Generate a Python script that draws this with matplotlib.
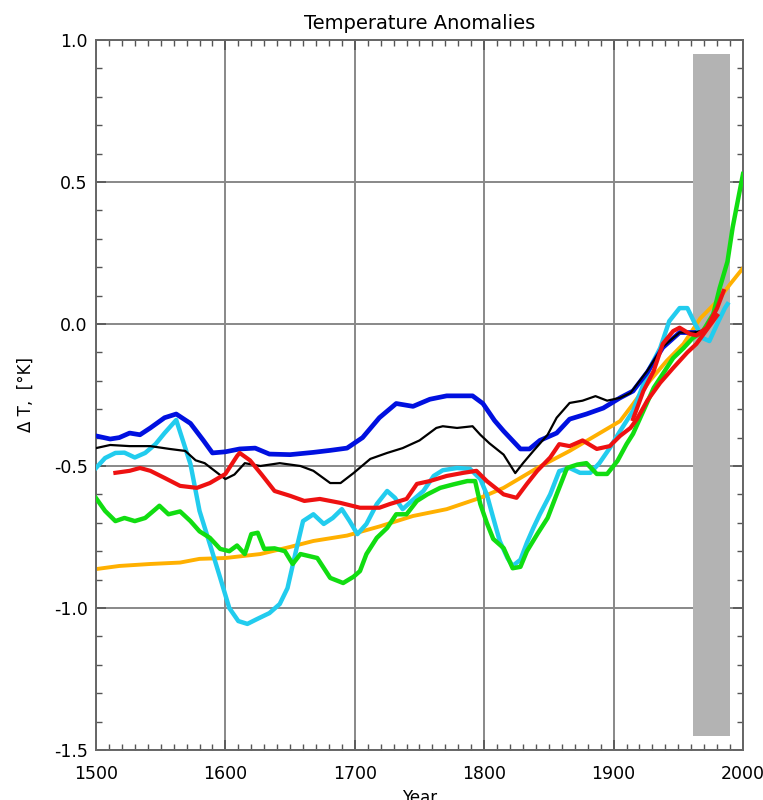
import matplotlib
matplotlib.use("Agg")
import matplotlib.pyplot as plt
from matplotlib.ticker import MultipleLocator

# values (year, delta T in K)
blue_years = [1500, 1511, 1518, 1526, 1534, 1542, 1553, 1562, 1573, 1583, 1590, 1600,
              1611, 1623, 1634, 1650, 1668, 1681, 1694, 1706, 1719, 1732, 1745, 1758,
              1771, 1784, 1791, 1799, 1808, 1815, 1828, 1835, 1843, 1856, 1866, 1879,
              1892, 1905, 1915, 1926, 1938, 1951, 1962]
blue_vals = [-0.394, -0.405, -0.40, -0.384, -0.39, -0.366, -0.33, -0.317, -0.35, -0.41,
             -0.454, -0.45, -0.44, -0.437, -0.458, -0.46, -0.452, -0.445, -0.437, -0.40,
             -0.33, -0.28, -0.29, -0.265, -0.253, -0.253, -0.253, -0.28, -0.34, -0.377,
             -0.44, -0.44, -0.41, -0.384, -0.335, -0.317, -0.296, -0.26, -0.236, -0.17,
             -0.083, -0.03, -0.03]

black_years = [1500, 1511, 1526, 1542, 1557, 1569, 1577, 1584, 1592, 1600, 1607, 1615,
               1627, 1642, 1658, 1668, 1681, 1689, 1699, 1712, 1725, 1737, 1750, 1763,
               1768, 1779, 1791, 1797, 1804, 1815, 1824, 1830, 1838, 1849, 1856, 1866,
               1876, 1886, 1895, 1905, 1913, 1926, 1938, 1951, 1962, 1972]
black_vals = [-0.437, -0.426, -0.43, -0.43, -0.44, -0.447, -0.48, -0.49, -0.518, -0.546,
              -0.53, -0.49, -0.50, -0.49, -0.50, -0.517, -0.56, -0.56, -0.525, -0.475,
              -0.454, -0.437, -0.41, -0.366, -0.36, -0.366, -0.36, -0.39, -0.42, -0.46,
              -0.525, -0.49, -0.447, -0.39, -0.33, -0.278, -0.27, -0.254, -0.27, -0.26,
              -0.243, -0.165, -0.08, -0.03, -0.03, -0.02]

red_years = [1515, 1526, 1534, 1542, 1553, 1565, 1578, 1588, 1600, 1609, 1611, 1619,
             1628, 1638, 1650, 1661, 1673, 1689, 1704, 1719, 1727, 1740, 1748, 1758,
             1771, 1784, 1794, 1802, 1815, 1825, 1833, 1841, 1851, 1858, 1866, 1876,
             1887, 1897, 1905, 1913, 1918, 1926, 1936, 1946, 1957, 1964, 1972, 1980]
red_vals = [-0.524, -0.517, -0.507, -0.517, -0.542, -0.57, -0.577, -0.56, -0.528, -0.465,
            -0.454, -0.48, -0.53, -0.588, -0.605, -0.623, -0.616, -0.63, -0.647, -0.647,
            -0.634, -0.616, -0.563, -0.553, -0.535, -0.524, -0.517, -0.553, -0.60, -0.612,
            -0.563, -0.517, -0.47, -0.423, -0.43, -0.41, -0.44, -0.43, -0.394, -0.366,
            -0.335, -0.27, -0.207, -0.155, -0.10, -0.07, -0.02, 0.03]

red2_years = [1915, 1923, 1931, 1938, 1946, 1951, 1959, 1964, 1972, 1980, 1985]
red2_vals = [-0.335, -0.236, -0.165, -0.07, -0.025, -0.013, -0.035, -0.04, -0.013, 0.056, 0.116]

cyan_years = [1500, 1507, 1515, 1522, 1530, 1538, 1546, 1553, 1562, 1573, 1580, 1588,
              1596, 1603, 1610, 1617, 1624, 1634, 1642, 1648, 1655, 1660, 1668, 1676,
              1683, 1690, 1696, 1702, 1709, 1717, 1725, 1731, 1737, 1744, 1753, 1761,
              1768, 1779, 1789, 1797, 1802, 1807, 1812, 1818, 1822, 1828, 1833, 1838,
              1843, 1851, 1858, 1866, 1874, 1882, 1889, 1897, 1905, 1915, 1928, 1936,
              1943, 1951, 1957, 1963, 1969, 1974, 1980, 1986, 1988]
cyan_vals = [-0.507, -0.472, -0.454, -0.453, -0.47, -0.454, -0.423, -0.384, -0.338, -0.493,
             -0.658, -0.775, -0.894, -1.0, -1.046, -1.056, -1.04, -1.018, -0.986, -0.93,
             -0.79, -0.694, -0.67, -0.704, -0.683, -0.652, -0.694, -0.74, -0.704, -0.634,
             -0.588, -0.612, -0.652, -0.623, -0.588, -0.535, -0.515, -0.507, -0.51, -0.546,
             -0.60, -0.683, -0.764, -0.824, -0.852, -0.83, -0.77, -0.718, -0.67, -0.60,
             -0.518, -0.507, -0.524, -0.524, -0.49, -0.437, -0.377, -0.306, -0.155, -0.085,
             0.01, 0.056, 0.056, 0.0, -0.05, -0.06, 0.0, 0.056, 0.07]

green_years = [1500, 1507, 1515, 1522, 1530, 1538, 1546, 1549, 1556, 1565, 1573, 1580,
               1588, 1596, 1603, 1609, 1615, 1620, 1625, 1630, 1638, 1646, 1652, 1658,
               1671, 1681, 1691, 1699, 1704, 1709, 1717, 1725, 1732, 1740, 1748, 1756,
               1766, 1776, 1787, 1793, 1797, 1802, 1807, 1815, 1822, 1828, 1833, 1841,
               1849, 1856, 1864, 1872, 1879, 1887, 1895, 1903, 1910, 1915, 1923, 1931,
               1938, 1946, 1954, 1961, 1969, 1977, 1982, 1988, 1992, 1997, 2000]
green_vals = [-0.613, -0.658, -0.694, -0.683, -0.694, -0.683, -0.652, -0.64, -0.67, -0.66,
              -0.694, -0.73, -0.753, -0.792, -0.80, -0.78, -0.81, -0.74, -0.735, -0.792,
              -0.79, -0.80, -0.845, -0.81, -0.824, -0.894, -0.912, -0.89, -0.87, -0.81,
              -0.753, -0.718, -0.67, -0.67, -0.623, -0.60, -0.577, -0.565, -0.553, -0.553,
              -0.634, -0.70, -0.757, -0.789, -0.86, -0.855, -0.80, -0.74, -0.683, -0.60,
              -0.507, -0.495, -0.49, -0.528, -0.528, -0.482, -0.423, -0.387, -0.306, -0.225,
              -0.176, -0.12, -0.085, -0.05, -0.025, 0.035, 0.127, 0.22, 0.34, 0.458, 0.528]

orange_years = [1500, 1518, 1542, 1565, 1580, 1600, 1627, 1650, 1668, 1694, 1719, 1745,
                1771, 1797, 1815, 1841, 1866, 1892, 1905, 1915, 1928, 1941, 1954, 1967,
                1980, 1990, 2000]
orange_vals = [-0.863, -0.852, -0.845, -0.84, -0.827, -0.824, -0.81, -0.785, -0.764, -0.745,
               -0.713, -0.676, -0.652, -0.612, -0.577, -0.507, -0.447, -0.377, -0.342, -0.282,
               -0.2, -0.13, -0.07, 0.02, 0.08, 0.14, 0.197]

# shaded calibration period
band_years = [1961, 1990]
band_low, band_high = -1.45, 0.95

fig = plt.figure(figsize=(7.63, 8.0), dpi=100)
ax = fig.add_axes([0.1258, 0.0625, 0.848, 0.8875])

ax.set_xlim(1500, 2000)
ax.set_ylim(-1.5, 1.0)

ax.grid(True, color="#888888", linewidth=1.4, zorder=0)
ax.set_axisbelow(True)
ax.fill_between(band_years, band_low, band_high, color="#b3b3b3", linewidth=0, zorder=1)

ax.plot(orange_years, orange_vals, color="#ffb000", lw=2.8, zorder=2)
ax.plot(cyan_years, cyan_vals, color="#22ccee", lw=3.2, zorder=3)
ax.plot(green_years, green_vals, color="#11dd11", lw=3.2, zorder=4)
ax.plot(blue_years, blue_vals, color="#0010e0", lw=3.4, zorder=5)
ax.plot(black_years, black_vals, color="black", lw=1.6, zorder=6)
ax.plot(red_years, red_vals, color="#ee1111", lw=3.0, zorder=7)
ax.plot(red2_years, red2_vals, color="#ee1111", lw=3.0, zorder=7)

ax.xaxis.set_major_locator(MultipleLocator(100))
ax.xaxis.set_minor_locator(MultipleLocator(10))
ax.yaxis.set_major_locator(MultipleLocator(0.5))
ax.yaxis.set_minor_locator(MultipleLocator(0.1))
ax.yaxis.set_major_formatter(matplotlib.ticker.FormatStrFormatter("%.1f"))

ax.tick_params(which="both", direction="in", top=True, right=True, color="#555555")
ax.tick_params(which="major", length=7, width=1.2, labelsize=12.5, pad=6)
ax.tick_params(axis="x", which="major", pad=11)
ax.tick_params(which="minor", length=4, width=1.0)

for s in ax.spines.values():
    s.set_color("#666666")
    s.set_linewidth(1.4)

ax.set_title("Temperature Anomalies", fontsize=14, pad=8)
ax.set_ylabel("Δ T,  [°K]", fontsize=12, labelpad=14)
ax.set_xlabel("Year", fontsize=12, labelpad=4)

fig.savefig("out.png", dpi=100)
